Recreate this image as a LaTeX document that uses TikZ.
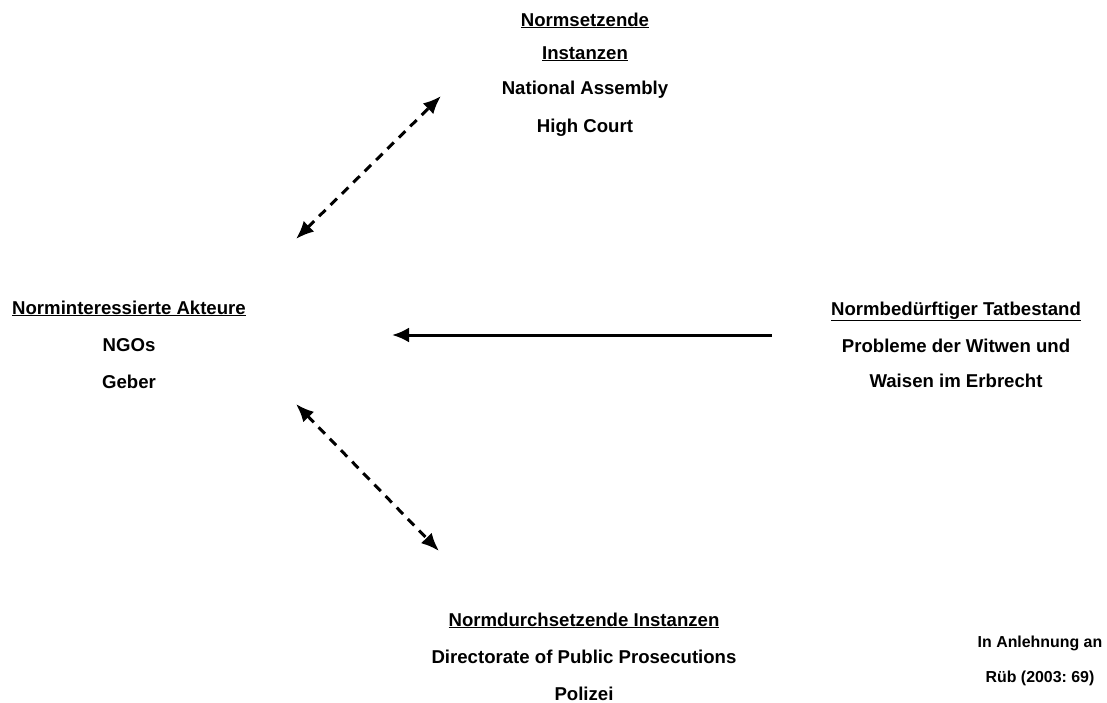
\documentclass[tikz,border=0pt]{standalone}
\usepackage{fontspec}
\setmainfont{Liberation Sans}
\usetikzlibrary{arrows.meta}
\frenchspacing
\begin{document}
\begin{tikzpicture}[x=1pt,y=-1pt,
  lbl/.style={anchor=base,inner sep=0pt,font=\fontsize{18.6}{18.6}\selectfont\bfseries},
  note/.style={anchor=base,inner sep=0pt,font=\fontsize{15.9}{15.9}\selectfont\bfseries},
  linkarrow/.style={line width=3pt,{Latex[length=18pt,width=15pt]}-{Latex[length=18pt,width=15pt]},dash pattern=on 9pt off 7pt},
  mainarrow/.style={line width=3pt,-{Latex[length=17pt,width=15pt]}}]
\useasboundingbox (0,0) rectangle (1107,702);
% norm-setting authorities (top)
\node[lbl] (top1) at (585,26) {\underline{Normsetzende}};
\node[lbl] (top2) at (585,59) {\underline{Instanzen}};
\node[lbl] (top3) at (585,94) {National Assembly};
\node[lbl] (top4) at (585,132) {High Court};
% interested actors (left)
\node[lbl] (left1) at (129,314) {\underline{Norminteressierte Akteure}};
\node[lbl] (left2) at (129,351) {NGOs};
\node[lbl] (left3) at (129,388) {Geber};
% situation requiring norms (right)
\node[lbl] (right1) at (956,315) {\underline{Normbedürftiger Tatbestand}};
\node[lbl] (right2) at (956,352) {Probleme der Witwen und};
\node[lbl] (right3) at (956,387) {Waisen im Erbrecht};
% enforcing authorities (bottom)
\node[lbl] (bot1) at (584,626) {\underline{Normdurchsetzende Instanzen}};
\node[lbl] (bot2) at (584,663) {Directorate of Public Prosecutions};
\node[lbl] (bot3) at (584,700) {Polizei};
% source note
\node[note] (src1) at (1040,647) {In Anlehnung an};
\node[note] (src2) at (1040,682) {Rüb (2003: 69)};
% arrow end points
\coordinate (a1s) at (296,239);
\coordinate (a1e) at (441,96);
\coordinate (a2s) at (296,404);
\coordinate (a2e) at (439,551);
\coordinate (a3s) at (772,335);
\coordinate (a3e) at (392,335);
\draw[linkarrow] (a1s) -- (a1e);
\draw[linkarrow] (a2s) -- (a2e);
\draw[mainarrow] (a3s) -- (a3e);
\end{tikzpicture}
\end{document}
